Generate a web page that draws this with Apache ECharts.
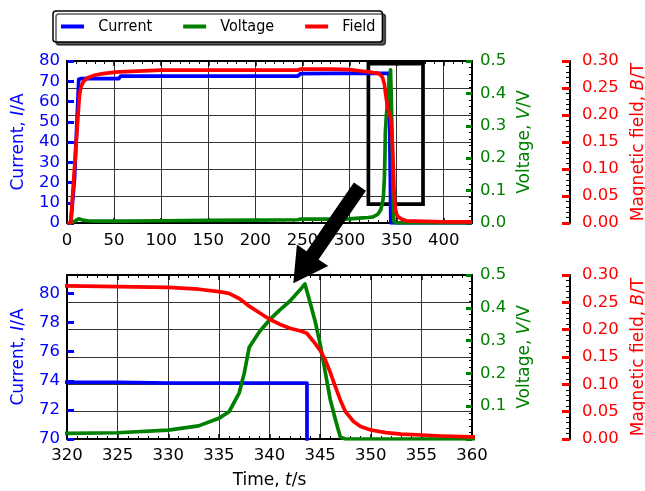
<!DOCTYPE html>
<html><head><meta charset="utf-8">
<script src="https://cdn.jsdelivr.net/npm/echarts@6/dist/echarts.min.js"></script>
<style>html,body{margin:0;padding:0;background:#fff}#c{width:645px;height:491px}</style>
</head><body><div id="c"></div>
<script>
// ---- data (time in s, current in A, voltage in V, field in T) ----
const time = [
  0, 4, 6, 8, 10, 12.5, 13.5, 15, 18, 22,
  30, 40, 50, 55, 57, 100, 150, 200, 245, 248,
  280, 300, 310, 320, 325, 330, 333, 335, 336, 337,
  337.5, 338, 339, 340, 341, 342, 343, 343.5, 343.7, 343.8,
  344.5, 345, 345.5, 346, 346.5, 347, 347.5, 348.3, 349, 350,
  351.5, 353, 355, 357, 360, 380, 400, 430
];
const current = [
  0, 0, 0, 22, 44, 71, 71.2, 71.3, 71.3, 71.3,
  71.3, 71.3, 71.3, 71.3, 72.5, 72.5, 72.5, 72.5, 72.5, 73.8,
  73.9, 73.9, 73.9, 73.9, 73.9, 73.85, 73.85, 73.85, 73.85, 73.85,
  73.85, 73.85, 73.85, 73.85, 73.85, 73.85, 73.85, 73.85, 73.85, 0,
  0, 0, 0, 0, 0, 0, 0, 0, 0, 0,
  0, 0, 0, 0, 0, 0, 0, 0
];
const voltage = [
  0, 0, 0.003, 0.005, 0.008, 0.013, 0.015, 0.011, 0.008, 0.007,
  0.006, 0.006, 0.006, 0.006, 0.007, 0.007, 0.008, 0.009, 0.010, 0.012,
  0.012, 0.013, 0.015, 0.017, 0.019, 0.027, 0.040, 0.063, 0.083, 0.140,
  0.200, 0.280, 0.327, 0.363, 0.393, 0.420, 0.454, 0.473, 0.450, 0.440,
  0.360, 0.290, 0.205, 0.120, 0.060, 0.005, 0, 0, 0, 0,
  0, 0, 0, 0, 0, 0, 0, 0
];
const field = [
  0, 0, 0.052, 0.103, 0.155, 0.219, 0.240, 0.253, 0.263, 0.269,
  0.274, 0.277, 0.279, 0.280, 0.283, 0.283, 0.283, 0.283, 0.283, 0.285,
  0.285, 0.284, 0.282, 0.280, 0.2786, 0.2775, 0.274, 0.2695, 0.2665, 0.257,
  0.250, 0.243, 0.231, 0.219, 0.210, 0.2025, 0.198, 0.195, 0.193, 0.192,
  0.175, 0.162, 0.145, 0.122, 0.096, 0.071, 0.050, 0.032, 0.023, 0.0165,
  0.0116, 0.009, 0.0073, 0.0055, 0.004, 0.003, 0.002, 0.002
];
const seriesNames = ['Current', 'Voltage', 'Field'];
const topTimeRange = [0, 430];
const bottomTimeRange = [320, 360];
const topTimeTicks = [0, 50, 100, 150, 200, 250, 300, 350, 400];
const bottomCurrentTicks = [70, 72, 74, 76, 78, 80];
const bottomCurrentRange = [70, 81.27];
const zoomBoxTime = [320, 378];
const zoomBoxCurrent = [9.3, 78.7];
const arrowTail = [311, 18];      // top panel (time, current)
const arrowTip = [342.35, 80.7];  // bottom panel (time, current)

// ---- styles ----
const FONT = 'DejaVu Sans';
const LEGFONT = "'DejaVu Sans Condensed', 'DejaVu Sans'";
const BLUE = '#0000ff', GREEN = '#008000', RED = '#ff0000';
const GRIDC = '#333';
const TICKFS = 16.5, NAMEFS = 17;
const LW = 3.7;

function pairs(ys) { return time.map((t, i) => [t, ys[i]]); }
function nameStyle(color) {
  return { color, fontSize: NAMEFS, fontFamily: FONT,
    rich: { i: { fontStyle: 'italic', color, fontSize: NAMEFS, fontFamily: FONT } } };
}
const grids = [
  { left: 67, top: 61, width: 405, height: 162, outerBoundsMode: 'none', containLabel: false },
  { left: 67, top: 275, width: 405, height: 164, outerBoundsMode: 'none', containLabel: false }
];

function xMajor(gi, range, interval, pos, labels, extra) {
  return Object.assign({
    type: 'value', gridIndex: gi, position: pos, min: range[0], max: range[1], interval,
    axisLine: { show: true, onZero: false, lineStyle: { color: '#000', width: 2 } },
    axisTick: { show: true, inside: true, length: 5, lineStyle: { color: '#000', width: 1.5 } },
    axisLabel: { show: labels, color: '#000', fontSize: TICKFS, fontFamily: FONT, margin: 9 },
    splitLine: { show: false },
    axisPointer: { show: false }
  }, extra || {});
}
function xMinorOnly(gi, range, interval, pos) {
  return {
    type: 'value', gridIndex: gi, position: pos, min: range[0], max: range[1], interval,
    axisLine: { show: false, onZero: false },
    axisTick: { show: true, inside: true, length: 3, lineStyle: { color: '#000', width: 1 } },
    axisLabel: { show: false }, splitLine: { show: false }
  };
}

const xAxis = [
  // top panel
  xMajor(0, topTimeRange, 50, 'bottom', true, {
    axisTick: { show: true, inside: true, length: 5, customValues: topTimeTicks, lineStyle: { color: '#000', width: 1.5 } },
    axisLabel: { show: true, color: '#000', fontSize: TICKFS, fontFamily: FONT, margin: 9, customValues: topTimeTicks },
    splitLine: { show: true, lineStyle: { color: GRIDC, width: 1 } }
  }),
  xMinorOnly(0, topTimeRange, 10, 'bottom'),
  xMajor(0, topTimeRange, 50, 'top', false, {
    axisTick: { show: true, inside: true, length: 5, customValues: topTimeTicks, lineStyle: { color: '#000', width: 1.5 } }
  }),
  xMinorOnly(0, topTimeRange, 10, 'top'),
  // bottom panel
  xMajor(1, bottomTimeRange, 5, 'bottom', true, {
    axisLabel: { show: true, color: '#000', fontSize: TICKFS, fontFamily: FONT, margin: 8 },
    minorTick: { show: true, splitNumber: 5, length: 3, lineStyle: { color: '#000', width: 1 } },
    splitLine: { show: true, lineStyle: { color: GRIDC, width: 1 } },
    name: 'Time, {i|t}/s', nameLocation: 'middle', nameGap: 33, nameMoveOverlap: false,
    nameTextStyle: nameStyle('#000')
  }),
  xMajor(1, bottomTimeRange, 5, 'top', false, {
    minorTick: { show: true, splitNumber: 5, length: 3, lineStyle: { color: '#000', width: 1 } }
  })
];

function yCurrent(gi, range, interval, extraTick, extraLabel) {
  return {
    type: 'value', gridIndex: gi, position: 'left', min: range[0], max: range[1], interval,
    axisLine: { show: true, onZero: false, lineStyle: { color: '#000', width: 2 } },
    axisTick: Object.assign({ show: true, inside: true, length: 7, lineStyle: { color: BLUE, width: 3 } }, extraTick || {}),
    axisLabel: Object.assign({ color: BLUE, fontSize: TICKFS, fontFamily: FONT, margin: 7 }, extraLabel || {}),
    splitLine: { show: false },
    name: 'Current, {i|I}/A', nameLocation: 'middle', nameGap: 40, nameMoveOverlap: false,
    nameTextStyle: nameStyle(BLUE)
  };
}
function yVoltage(gi, extraLabel) {
  return {
    type: 'value', gridIndex: gi, position: 'right', min: 0, max: 0.5, interval: 0.1,
    axisLine: { show: true, onZero: false, lineStyle: { color: '#000', width: 2 } },
    axisTick: { show: true, inside: true, length: 6, lineStyle: { color: GREEN, width: 3 } },
    minorTick: { show: true, splitNumber: 5, length: 3, lineStyle: { color: '#000', width: 1 } },
    axisLabel: Object.assign({ color: GREEN, fontSize: TICKFS, fontFamily: FONT, margin: 8,
      formatter: v => v.toFixed(1) }, extraLabel || {}),
    splitLine: { show: false },
    name: 'Voltage, {i|V}/V', nameLocation: 'middle', nameGap: 44, nameMoveOverlap: false,
    nameTextStyle: nameStyle(GREEN)
  };
}
function yField(gi) {
  return {
    type: 'value', gridIndex: gi, position: 'right', offset: 98, min: 0, max: 0.3, interval: 0.05,
    axisLine: { show: true, onZero: false, lineStyle: { color: '#000', width: 2 } },
    axisTick: { show: true, inside: true, length: 8, lineStyle: { color: RED, width: 3 } },
    minorTick: { show: true, splitNumber: 5, length: 4, lineStyle: { color: '#000', width: 1 } },
    axisLabel: { color: RED, fontSize: TICKFS, fontFamily: FONT, margin: 12, formatter: v => v.toFixed(2) },
    splitLine: { show: true, lineStyle: { color: GRIDC, width: 1 } },
    name: 'Magnetic field, {i|B}/T', nameLocation: 'middle', nameGap: 60, nameMoveOverlap: false,
    nameTextStyle: nameStyle(RED)
  };
}

const yAxis = [
  yCurrent(0, [0, 80], 10),
  yVoltage(0),
  yField(0),
  yCurrent(1, bottomCurrentRange, 2, { customValues: bottomCurrentTicks },
    { customValues: bottomCurrentTicks }),
  yVoltage(1, { showMinLabel: false }),
  yField(1)
];

function lineSeries(name, xi, yi, ys, color, extra) {
  return Object.assign({
    name, type: 'line', xAxisIndex: xi, yAxisIndex: yi, data: pairs(ys),
    showSymbol: false, symbol: 'none', clip: true,
    lineStyle: { color, width: LW, join: 'round' }, itemStyle: { color },
    emphasis: { disabled: true }
  }, extra || {});
}

const series = [
  lineSeries('Current', 0, 0, current, BLUE, {
    markArea: {
      silent: true,
      itemStyle: { color: 'rgba(0,0,0,0)', borderColor: '#000', borderWidth: 3.7 },
      data: [[{ coord: [zoomBoxTime[0], zoomBoxCurrent[1]] }, { coord: [zoomBoxTime[1], zoomBoxCurrent[0]] }]]
    }
  }),
  lineSeries('Voltage', 0, 1, voltage, GREEN),
  lineSeries('Field', 0, 2, field, RED),
  lineSeries('Current', 4, 3, current, BLUE),
  lineSeries('Voltage', 4, 4, voltage, GREEN),
  lineSeries('Field', 4, 5, field, RED)
];

const chart = echarts.init(document.getElementById('c'), null, { renderer: 'canvas' });
chart.setOption({
  animation: false,
  backgroundColor: '#fff',
  grid: grids,
  xAxis, yAxis, series,
  legend: {
    data: seriesNames, left: 53, top: 11, orient: 'horizontal', selectedMode: false,
    icon: 'rect', itemWidth: 23, itemHeight: 4, itemGap: 31,
    padding: [6, 7, 6, 8], backgroundColor: '#fff',
    borderColor: '#000', borderWidth: 1.5, borderRadius: 3,
    shadowColor: 'rgba(0,0,0,0.65)', shadowBlur: 0, shadowOffsetX: 3, shadowOffsetY: 3,
    textStyle: { fontFamily: LEGFONT, fontSize: 16, color: '#000', lineHeight: 19 },
    formatter: n => '  ' + n
  }
});

// arrow annotation from top panel to bottom panel
const S = chart.convertToPixel({ xAxisIndex: 0, yAxisIndex: 0 }, arrowTail);
const T = chart.convertToPixel({ xAxisIndex: 4, yAxisIndex: 3 }, arrowTip);
const dx = T[0] - S[0], dy = T[1] - S[1], L = Math.hypot(dx, dy);
const ux = dx / L, uy = dy / L, nx = -uy, ny = ux;
const w = 7.3, hw = 19, hl = 34;
const B = [T[0] - ux * hl, T[1] - uy * hl];
const pts = [
  [S[0] + nx * w, S[1] + ny * w], [B[0] + nx * w, B[1] + ny * w], [B[0] + nx * hw, B[1] + ny * hw],
  T, [B[0] - nx * hw, B[1] - ny * hw], [B[0] - nx * w, B[1] - ny * w], [S[0] - nx * w, S[1] - ny * w]
];
chart.setOption({ graphic: [{ type: 'polygon', shape: { points: pts }, style: { fill: '#000' }, z: 100, silent: true }] });
</script>
</body></html>
